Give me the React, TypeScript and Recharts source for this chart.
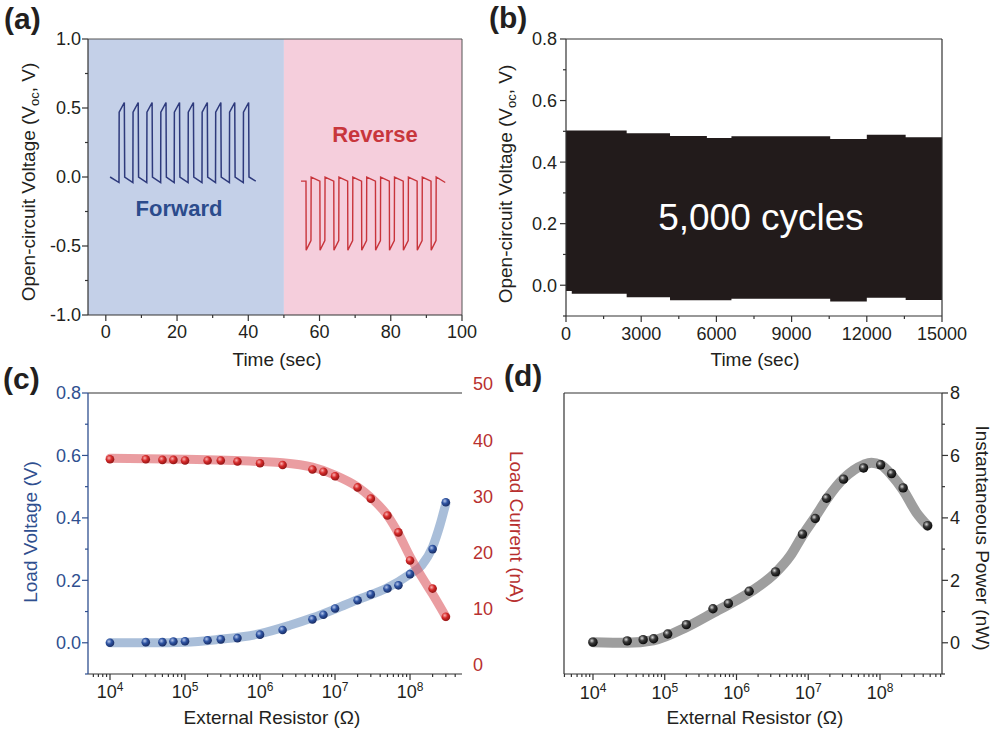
import React from 'react';
import { ComposedChart, Line, Area, Scatter, XAxis, YAxis, ReferenceArea, ReferenceLine } from 'recharts';

const FONT = '"Liberation Sans", Arial, Helvetica, sans-serif';
const TXT = '#231f20';

// ---------- (a) open-circuit voltage, forward / reverse ----------
const forwardTime = [1.2, 3.7, 3.75, 5.2, 5.3, 7.6, 7.65, 9.1, 9.2, 11.5, 11.55, 13.0, 13.1, 15.4, 15.45, 16.9, 17.0, 19.2, 19.25, 20.7, 20.8, 23.1, 23.15, 24.6, 24.7, 27.0, 27.05, 28.5, 28.6, 30.8, 30.85, 32.3, 32.4, 34.7, 34.75, 36.2, 36.3, 38.6, 38.65, 40.1, 40.2, 42.1];
const forwardVoltage = [0.0, -0.04, 0.47, 0.54, 0.0, -0.04, 0.47, 0.54, 0.0, -0.04, 0.47, 0.54, 0.0, -0.04, 0.47, 0.54, 0.0, -0.04, 0.47, 0.54, 0.0, -0.04, 0.47, 0.54, 0.0, -0.04, 0.47, 0.54, 0.0, -0.04, 0.47, 0.54, 0.0, -0.04, 0.47, 0.54, 0.0, -0.04, 0.47, 0.54, 0.0, -0.03];
const reverseTime = [54.8, 56.2, 56.25, 57.6, 57.65, 60.1, 60.15, 61.5, 61.55, 64.0, 64.05, 65.4, 65.45, 67.9, 67.95, 69.3, 69.35, 71.8, 71.85, 73.2, 73.25, 75.7, 75.75, 77.1, 77.15, 79.6, 79.65, 81.0, 81.05, 83.5, 83.55, 84.9, 84.95, 87.4, 87.45, 88.8, 88.85, 91.3, 91.35, 92.7, 92.75, 95.3];
const reverseVoltage = [-0.03, -0.03, -0.53, -0.46, 0.0, -0.03, -0.53, -0.46, 0.0, -0.03, -0.53, -0.46, 0.0, -0.03, -0.53, -0.46, 0.0, -0.03, -0.53, -0.46, 0.0, -0.03, -0.53, -0.46, 0.0, -0.03, -0.53, -0.46, 0.0, -0.03, -0.53, -0.46, 0.0, -0.03, -0.53, -0.46, 0.0, -0.03, -0.53, -0.46, 0.0, -0.04];
const aXTicks = [0, 10, 20, 30, 40, 50, 60, 70, 80, 90, 100];
const aXMajor = [0, 20, 40, 60, 80, 100];
const aYTicks = [-1, -0.75, -0.5, -0.25, 0, 0.25, 0.5, 0.75, 1];
const aYMajor = [-1, -0.5, 0, 0.5, 1];

// ---------- (b) 5,000 cycles envelope ----------
const envelopeTime = [0, 230, 2420, 4150, 5620, 6600, 10540, 12000, 13550, 15000];
const envelopeHigh = [0.503, 0.503, 0.494, 0.485, 0.478, 0.484, 0.475, 0.489, 0.481, 0.478];
const envelopeLow = [-0.019, -0.028, -0.039, -0.049, -0.049, -0.044, -0.053, -0.041, -0.048, -0.048];
const bXTicks = [0, 1500, 3000, 4500, 6000, 7500, 9000, 10500, 12000, 13500, 15000];
const bXMajor = [0, 3000, 6000, 9000, 12000, 15000];
const bYTicks = [-0.1, 0, 0.1, 0.2, 0.3, 0.4, 0.5, 0.6, 0.7, 0.8];
const bYMajor = [0, 0.2, 0.4, 0.6, 0.8];

// ---------- (c) load voltage / current ----------
const resistorC = [1e4, 3e4, 5e4, 7e4, 1e5, 2e5, 3e5, 5e5, 1e6, 2e6, 5e6, 7e6, 1e7, 2e7, 3e7, 5e7, 7e7, 1e8, 2e8, 3e8];
const loadVoltage = [0.0, 0.002, 0.002, 0.004, 0.005, 0.008, 0.011, 0.015, 0.026, 0.041, 0.075, 0.09, 0.11, 0.136, 0.155, 0.174, 0.184, 0.22, 0.3, 0.45];
const loadCurrent = [36.6, 36.6, 36.5, 36.5, 36.4, 36.4, 36.4, 36.2, 35.9, 35.6, 34.8, 34.4, 33.6, 31.6, 29.6, 26.6, 23.6, 18.6, 13.6, 8.6];
const voltageFitR = [1e4, 3.4e4, 1e5, 2.6e5, 1e6, 2.5e6, 5e6, 1e7, 2e7, 5e7, 1e8, 1.43e8, 2e8, 2.5e8, 3e8];
const voltageFit = [0.0, 0.0, 0.002, 0.01, 0.029, 0.056, 0.08, 0.108, 0.138, 0.176, 0.22, 0.248, 0.307, 0.376, 0.446];
const currentFitR = [1e4, 1e5, 1e6, 2e6, 5e6, 1e7, 2e7, 3e7, 5e7, 7e7, 1e8, 1.43e8, 2e8, 3e8];
const currentFit = [36.8, 36.6, 36.2, 36.0, 35.2, 33.8, 31.7, 29.8, 26.6, 23.4, 19.3, 15.7, 12.6, 8.6];
const cYTicks = [-0.1, 0, 0.1, 0.2, 0.3, 0.4, 0.5, 0.6, 0.7, 0.8];
const cYMajor = [0, 0.2, 0.4, 0.6, 0.8];
const cCurrentTicks = [0, 10, 20, 30, 40, 50];
const logMajor = [1e4, 1e5, 1e6, 1e7, 1e8];

// ---------- (d) instantaneous power ----------
const resistorD = [1e4, 3e4, 5e4, 7e4, 1.1e5, 2e5, 4.7e5, 7.7e5, 1.5e6, 3.5e6, 8.3e6, 1.25e7, 1.8e7, 3.1e7, 5.9e7, 1.02e8, 1.45e8, 2.1e8, 4.6e8];
const power = [0.02, 0.06, 0.1, 0.13, 0.28, 0.58, 1.09, 1.26, 1.65, 2.27, 3.48, 3.98, 4.63, 5.24, 5.6, 5.7, 5.42, 4.96, 3.75];
const powerFitR = [1e4, 3e4, 7e4, 2e5, 4.8e5, 1.55e6, 3.5e6, 5.6e6, 8.3e6, 1.24e7, 1.9e7, 3.1e7, 5.9e7, 7.6e7, 1.02e8, 1.45e8, 2.1e8, 3.2e8, 4.6e8];
const powerFit = [0.02, 0.0, 0.08, 0.5, 0.97, 1.62, 2.24, 2.78, 3.43, 4.02, 4.67, 5.26, 5.7, 5.77, 5.7, 5.37, 4.89, 4.18, 3.75];
const dYTicks = [-1, 0, 1, 2, 3, 4, 5, 6, 7, 8];
const dYMajor = [0, 2, 4, 6, 8];

const zip = (xs: number[], ys: number[], kx = 'x', ky = 'y') => xs.map((x, i) => ({ [kx]: x, [ky]: ys[i] }));
const forwardData = zip(forwardTime, forwardVoltage);
const reverseData = zip(reverseTime, reverseVoltage);
const envelopeData = envelopeTime.map((t, i) => ({ x: t, range: [envelopeLow[i], envelopeHigh[i]] }));
const voltagePts = zip(resistorC, loadVoltage);
const currentPts = zip(resistorC, loadCurrent);
const voltageFitData = zip(voltageFitR, voltageFit);
const currentFitData = zip(currentFitR, currentFit);
const powerPts = zip(resistorD, power);
const powerFitData = zip(powerFitR, powerFit);

const logTicks = (lo: number, hi: number) => {
  const out: number[] = [];
  for (let e = 3; e <= 8; e++) {
    for (let k = 1; k <= 9; k++) {
      const v = k * Math.pow(10, e);
      if (v >= lo && v <= hi) out.push(v);
    }
  }
  return out;
};
const cDomain: [number, number] = [5090, 4.93e8];
const dDomain: [number, number] = [3945, 7.31e8];
const cXTicks = logTicks(cDomain[0], cDomain[1]);
const dXTicks = logTicks(dDomain[0], dDomain[1]);

const isIn = (list: number[], v: number) => list.some((m) => Math.abs(m - v) <= Math.abs(m) * 1e-6 + 1e-9);

type YOpts = { major?: number; minor?: number; gap?: number; label?: boolean; digits?: number; fontSize?: number; textColor?: string; labelAll?: boolean };
const yTick = (side: 'left' | 'right', majors: number[], color: string, o: YOpts = {}) => {
  const { major = 6, minor = 3, gap = 7, label = true, digits = 1, fontSize = 18, textColor, labelAll = false } = o;
  return (p: any) => {
    const v = Number(p.payload.value);
    const isMaj = isIn(majors, v);
    const len = isMaj ? major : minor;
    const dir = side === 'left' ? -1 : 1;
    return (
      <g>
        {len > 0 && <line x1={p.x} y1={p.y} x2={p.x + dir * len} y2={p.y} stroke={color} strokeWidth={1.2} />}
        {label && (isMaj || labelAll) && (
          <text x={p.x + dir * gap} y={p.y} dy="0.36em" textAnchor={side === 'left' ? 'end' : 'start'} fill={textColor || color} fontSize={fontSize} fontFamily={FONT}>
            {v.toFixed(digits)}
          </text>
        )}
      </g>
    );
  };
};

type XOpts = { major?: number; minor?: number; gap?: number; log?: boolean; fontSize?: number };
const xTick = (majors: number[], color: string, o: XOpts = {}) => {
  const { major = 6, minor = 3, gap = 23, log = false, fontSize = 18 } = o;
  return (p: any) => {
    const v = Number(p.payload.value);
    const isMaj = isIn(majors, v);
    const len = isMaj ? major : minor;
    return (
      <g>
        <line x1={p.x} y1={p.y} x2={p.x} y2={p.y + len} stroke={color} strokeWidth={1.2} />
        {isMaj &&
          (log ? (
            <text x={p.x} y={p.y + gap} textAnchor="middle" fill={TXT} fontSize={fontSize} fontFamily={FONT}>
              <tspan>10</tspan>
              <tspan dy={-7} fontSize={12}>{Math.round(Math.log10(v))}</tspan>
            </text>
          ) : (
            <text x={p.x} y={p.y + gap} textAnchor="middle" fill={TXT} fontSize={fontSize} fontFamily={FONT}>
              {String(v)}
            </text>
          ))}
      </g>
    );
  };
};

const sphere = (grad: string, r: number) => (p: any) => <circle cx={p.cx} cy={p.cy} r={r} fill={`url(#${grad})`} />;

const AX = '#333333';

function PanelA() {
  return (
    <ComposedChart width={490} height={370} margin={{ top: 39, right: 28, bottom: 0, left: 0 }}>
      <XAxis dataKey="x" type="number" domain={[-5, 100]} allowDataOverflow ticks={aXTicks} interval={0} tickSize={0} tickMargin={0} height={55} tickLine={false} axisLine={{ stroke: AX, strokeWidth: 1.2 }} tick={xTick(aXMajor, AX, { gap: 23 })} />
      <YAxis dataKey="y" type="number" domain={[-1, 1]} allowDataOverflow ticks={aYTicks} interval={0} tickSize={0} tickMargin={0} width={88} tickLine={false} axisLine={{ stroke: AX, strokeWidth: 1.2 }} tick={yTick('left', aYMajor, AX, { gap: 7, textColor: TXT })} />
      <ReferenceArea x1={-5} x2={50} y1={-1} y2={1} fill="#c4d0e8" fillOpacity={1} stroke="none" />
      <ReferenceArea x1={50} x2={100} y1={-1} y2={1} fill="#f5cedc" fillOpacity={1} stroke="none" />
      <ReferenceLine y={1} stroke="#555" strokeWidth={1} />
      <ReferenceLine x={100} stroke="#555" strokeWidth={1} />
      <Line data={forwardData} dataKey="y" type="linear" stroke="#2e3a7c" strokeWidth={1.5} dot={false} activeDot={false} isAnimationActive={false} />
      <Line data={reverseData} dataKey="y" type="linear" stroke="#c8343b" strokeWidth={1.4} dot={false} activeDot={false} isAnimationActive={false} />
    </ComposedChart>
  );
}

function PanelB() {
  return (
    <ComposedChart width={504} height={370} data={envelopeData} margin={{ top: 39, right: 52, bottom: 0, left: 0 }}>
      <XAxis dataKey="x" type="number" domain={[0, 15000]} allowDataOverflow ticks={bXTicks} interval={0} tickSize={0} tickMargin={0} height={54} tickLine={false} axisLine={{ stroke: AX, strokeWidth: 1.2 }} tick={xTick(bXMajor, AX, { gap: 24 })} />
      <YAxis type="number" domain={[-0.1, 0.8]} allowDataOverflow ticks={bYTicks} interval={0} tickSize={0} tickMargin={0} width={76} tickLine={false} axisLine={{ stroke: AX, strokeWidth: 1.2 }} tick={yTick('left', bYMajor, AX, { gap: 9, textColor: TXT })} />
      <Area dataKey="range" type="stepAfter" stroke="none" fill="#221b1b" fillOpacity={1} isAnimationActive={false} dot={false} activeDot={false} />
      <ReferenceLine y={0.8} stroke={AX} strokeWidth={1.2} />
      <ReferenceLine x={15000} stroke={AX} strokeWidth={1.2} />
    </ComposedChart>
  );
}

const BLUE = '#2f4f8f';
const RED = '#b8302f';

function PanelC() {
  return (
    <ComposedChart width={500} height={369} margin={{ top: 23, right: 0, bottom: 0, left: 0 }}>
      <XAxis dataKey="x" type="number" scale="log" domain={cDomain} allowDataOverflow ticks={cXTicks} interval={0} tickSize={0} tickMargin={0} height={65} tickLine={false} axisLine={{ stroke: AX, strokeWidth: 1.2 }} tick={xTick(logMajor, AX, { log: true, gap: 24 })} />
      <YAxis yAxisId="v" dataKey="y" type="number" domain={[-0.1, 0.8]} allowDataOverflow ticks={cYTicks} interval={0} tickSize={0} tickMargin={0} width={88} tickLine={false} axisLine={{ stroke: BLUE, strokeWidth: 1.3 }} tick={yTick('left', cYMajor, BLUE, { gap: 7 })} />
      <YAxis yAxisId="mirror" orientation="right" type="number" domain={[-0.1, 0.8]} allowDataOverflow ticks={cYTicks} interval={0} tickSize={0} tickMargin={0} width={0} tickLine={false} axisLine={{ stroke: RED, strokeWidth: 1.3 }} tick={yTick('right', cYMajor, RED, { major: 6, minor: 6, label: false })} />
      <YAxis yAxisId="i" orientation="right" dataKey="y" type="number" domain={[-1.6, 48.4]} allowDataOverflow ticks={cCurrentTicks} interval={0} tickSize={0} tickMargin={0} width={38} tickLine={false} axisLine={false} tick={yTick('right', cCurrentTicks, RED, { major: 0, minor: 0, gap: 11, digits: 0 })} />
      <ReferenceLine yAxisId="v" y={0.8} stroke={AX} strokeWidth={1.2} />
      <Line yAxisId="v" data={voltageFitData} dataKey="y" type="monotone" stroke="#6f93c0" strokeOpacity={0.6} strokeWidth={9} strokeLinecap="round" dot={false} activeDot={false} isAnimationActive={false} />
      <Line yAxisId="i" data={currentFitData} dataKey="y" type="monotone" stroke="#dc5c63" strokeOpacity={0.6} strokeWidth={9} strokeLinecap="round" dot={false} activeDot={false} isAnimationActive={false} />
      <Scatter yAxisId="v" data={voltagePts} dataKey="y" shape={sphere('gBlue', 4.3)} isAnimationActive={false} />
      <Scatter yAxisId="i" data={currentPts} dataKey="y" shape={sphere('gRed', 4.3)} isAnimationActive={false} />
    </ComposedChart>
  );
}

function PanelD() {
  return (
    <ComposedChart width={494} height={369} margin={{ top: 23, right: 0, bottom: 0, left: 0 }}>
      <XAxis dataKey="x" type="number" scale="log" domain={dDomain} allowDataOverflow ticks={dXTicks} interval={0} tickSize={0} tickMargin={0} height={65} tickLine={false} axisLine={{ stroke: AX, strokeWidth: 1.2 }} tick={xTick(logMajor, AX, { log: true, gap: 25 })} />
      <YAxis yAxisId="l" type="number" domain={[-1, 8]} width={64} tick={false} tickLine={false} axisLine={{ stroke: AX, strokeWidth: 1.2 }} />
      <YAxis yAxisId="p" orientation="right" dataKey="y" type="number" domain={[-1, 8]} allowDataOverflow ticks={dYTicks} interval={0} tickSize={0} tickMargin={0} width={52} tickLine={false} axisLine={{ stroke: AX, strokeWidth: 1.2 }} tick={yTick('right', dYMajor, AX, { gap: 8, digits: 0, textColor: TXT })} />
      <ReferenceLine yAxisId="p" y={8} stroke={AX} strokeWidth={1.2} />
      <Line yAxisId="p" data={powerFitData} dataKey="y" type="monotone" stroke="#9e9e9e" strokeWidth={10} strokeLinecap="round" dot={false} activeDot={false} isAnimationActive={false} />
      <Scatter yAxisId="p" data={powerPts} dataKey="y" shape={sphere('gBlack', 4.7)} isAnimationActive={false} />
    </ComposedChart>
  );
}

const abs = (left: number, top: number): React.CSSProperties => ({ position: 'absolute', left, top });

export default function App() {
  return (
    <div style={{ position: 'absolute', left: 0, top: 0, width: 994, height: 739, background: '#fff', overflow: 'hidden', fontFamily: FONT }}>
      <svg width={0} height={0} style={{ position: 'absolute' }}>
        <defs>
          <radialGradient id="gBlue" cx="0.38" cy="0.35" r="0.7">
            <stop offset="0" stopColor="#b4c6ec" />
            <stop offset="0.45" stopColor="#2d52a0" />
            <stop offset="1" stopColor="#17295e" />
          </radialGradient>
          <radialGradient id="gRed" cx="0.38" cy="0.35" r="0.7">
            <stop offset="0" stopColor="#f8b0b0" />
            <stop offset="0.45" stopColor="#d52a2a" />
            <stop offset="1" stopColor="#8a1212" />
          </radialGradient>
          <radialGradient id="gBlack" cx="0.38" cy="0.35" r="0.7">
            <stop offset="0" stopColor="#d8d8d8" />
            <stop offset="0.4" stopColor="#3a3a3a" />
            <stop offset="1" stopColor="#030303" />
          </radialGradient>
        </defs>
      </svg>
      <div style={abs(0, 0)}><PanelA /></div>
      <div style={abs(490, 0)}><PanelB /></div>
      <div style={abs(0, 370)}><PanelC /></div>
      <div style={abs(500, 370)}><PanelD /></div>
      <svg width={994} height={739} style={{ position: 'absolute', left: 0, top: 0, pointerEvents: 'none' }} fontFamily={FONT}>
        <text x={4} y={29} fontSize={30} fontWeight="bold" fill={TXT}>(a)</text>
        <text x={489} y={28} fontSize={30} fontWeight="bold" fill={TXT}>(b)</text>
        <text x={3} y={389} fontSize={30} fontWeight="bold" fill={TXT}>(c)</text>
        <text x={504} y={386} fontSize={30} fontWeight="bold" fill={TXT}>(d)</text>

        <text x={35} y={182} transform="rotate(-90 35 182)" textAnchor="middle" fontSize={19} fill={TXT}>
          Open-circuit Voltage (V<tspan dy={4} fontSize={13}>oc</tspan><tspan dy={-4}>, V)</tspan>
        </text>
        <text x={512} y={184} transform="rotate(-90 512 184)" textAnchor="middle" fontSize={19} fill={TXT}>
          Open-circuit Voltage (V<tspan dy={4} fontSize={13}>oc</tspan><tspan dy={-4}>, V)</tspan>
        </text>
        <text x={277} y={366} textAnchor="middle" fontSize={19} fill={TXT}>Time (sec)</text>
        <text x={755} y={366} textAnchor="middle" fontSize={19} fill={TXT}>Time (sec)</text>

        <text x={179} y={216} textAnchor="middle" fontSize={22} fontWeight="bold" fill="#2b4b8c">Forward</text>
        <text x={375} y={142} textAnchor="middle" fontSize={22} fontWeight="bold" fill="#c8363c">Reverse</text>
        <text x={761} y={230} textAnchor="middle" fontSize={37} fill="#ffffff">5,000 cycles</text>

        <text x={37} y={532} transform="rotate(-90 37 532)" textAnchor="middle" fontSize={19} fill={BLUE}>Load Voltage (V)</text>
        <text x={272} y={724} textAnchor="middle" fontSize={19} fill={TXT}>External Resistor (Ω)</text>
        <text x={755} y={724} textAnchor="middle" fontSize={19} fill={TXT}>External Resistor (Ω)</text>
        <text x={510} y={527} transform="rotate(90 510 527)" textAnchor="middle" fontSize={19} fill={RED}>Load Current (nA)</text>
        <text x={976} y={538} transform="rotate(90 976 538)" textAnchor="middle" fontSize={19} fill={TXT}>Instantaneous Power (nW)</text>
      </svg>
    </div>
  );
}
